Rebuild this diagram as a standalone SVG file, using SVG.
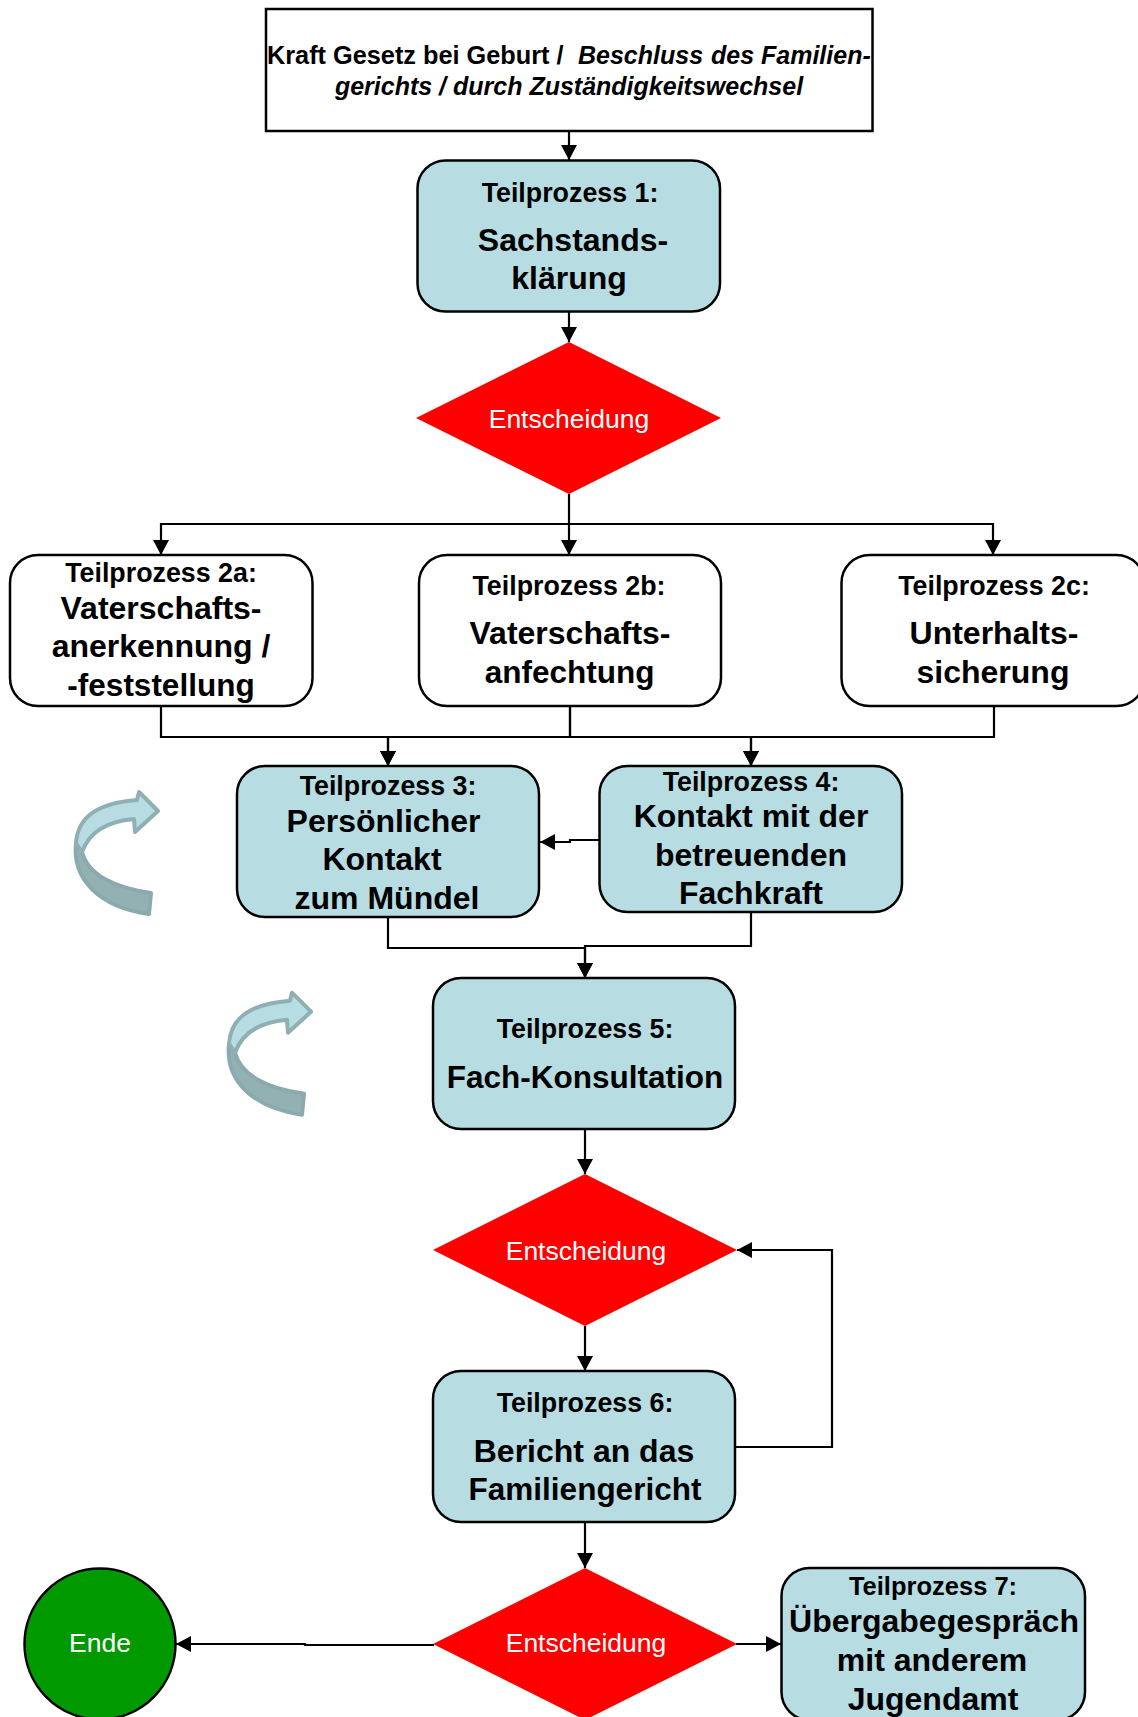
<svg xmlns="http://www.w3.org/2000/svg" width="1138" height="1717" viewBox="0 0 1138 1717">
<style>
text{font-family:"Liberation Sans",Arial,sans-serif;text-anchor:middle;fill:#000}
.h{font-weight:700;font-size:26.800px}
.b{font-weight:700;font-size:32px}
.n{font-weight:700;font-size:31.500px}
.t{font-weight:700;font-size:25px}
.s{text-anchor:start}
.i{font-style:italic}
.w{fill:#fff;font-size:26.500px}
.teal{fill:#b7dde2;stroke:#000;stroke-width:2.5}
.white{fill:#fff;stroke:#000;stroke-width:2.5}
.red{fill:#f00}
.c{fill:none;stroke:#000;stroke-width:2.2}
.up{fill:#b7dde2;stroke:#8fb0b3;stroke-width:4;stroke-linejoin:round}
.lo{fill:#93b1b3;stroke:#8aaaad;stroke-width:4;stroke-linejoin:round}
</style>
<defs>
<marker id="a" markerUnits="userSpaceOnUse" markerWidth="16" markerHeight="16" refX="15" refY="8" orient="auto"><path d="M0 0L15 8L0 16Z" fill="#000"/></marker>
<g id="curve"><path class="lo" d="M76 843C72 880 100 907 149 914L151 893C115 888 88 875 82 852Z"/><path class="up" d="M76 843C78 815 100 803 137 800L139 792L158 811L135 832L134 819C110 821 90 830 82 852Z"/></g>
</defs>
<g id="connectors">
<path class="c" marker-end="url(#a)" d="M569 131V160"/>
<path class="c" marker-end="url(#a)" d="M569 312V342"/>
<path class="c" marker-end="url(#a)" d="M569 494V555"/>
<path class="c" marker-end="url(#a)" d="M569 524H161V555"/>
<path class="c" marker-end="url(#a)" d="M569 524H993V555"/>
<path class="c" marker-end="url(#a)" d="M161 706V737H388V766"/>
<path class="c" marker-end="url(#a)" d="M570 706V737H388V766"/>
<path class="c" marker-end="url(#a)" d="M570 706V737H751V766"/>
<path class="c" marker-end="url(#a)" d="M994 706V737H751V766"/>
<path class="c" marker-end="url(#a)" d="M599 840H570V842H540"/>
<path class="c" marker-end="url(#a)" d="M388 917V948H585V978"/>
<path class="c" marker-end="url(#a)" d="M751 912V946H585V978"/>
<path class="c" marker-end="url(#a)" d="M585 1129V1174"/>
<path class="c" marker-end="url(#a)" d="M585 1326V1371"/>
<path class="c" marker-end="url(#a)" d="M585 1522V1568"/>
<path class="c" marker-end="url(#a)" d="M735 1447H832V1250H737"/>
<path class="c" marker-end="url(#a)" d="M434 1645H305V1644H176"/>
<path class="c" marker-end="url(#a)" d="M736 1644H781"/>
</g>
<g id="start"><rect class="white" x="266" y="9" width="606.500" height="122"/>
<text class="t s" x="267" y="64" style="font-size:25.300px">Kraft Gesetz bei Geburt /</text>
<text class="t s i" x="578" y="64">Beschluss</text>
<text class="t s i" x="711" y="64">des Familien-</text>
<text class="t i" x="569" y="95">gerichts / durch Zuständigkeitswechsel</text></g>
<g id="tp1"><rect class="teal" x="417.500" y="160.500" width="302.500" height="151" rx="28"/><text class="h" x="570" y="201.500">Teilprozess 1:</text><text class="b" x="573" y="251">Sachstands-</text><text class="b" x="569" y="289">klärung</text></g>
<g id="d1"><path class="red" d="M416 418L569 342L721 418L569 494Z"/><text class="w" x="569" y="428">Entscheidung</text></g>
<g id="tp2a"><rect class="white" x="10" y="555" width="302.500" height="151" rx="28"/><text class="h" x="161" y="582">Teilprozess 2a:</text><text class="b" x="161" y="619">Vaterschafts-</text><text class="b" x="161" y="657">anerkennung /</text><text class="n" x="161" y="696">-feststellung</text></g>
<g id="tp2b"><rect class="white" x="419" y="555" width="302" height="151" rx="28"/><text class="h" x="569" y="595">Teilprozess 2b:</text><text class="b" x="570" y="644">Vaterschafts-</text><text class="n" x="569.500" y="683">anfechtung</text></g>
<g id="tp2c"><rect class="white" x="841.500" y="555" width="303" height="151" rx="28"/><text class="h" x="994" y="595">Teilprozess 2c:</text><text class="b" x="994" y="644">Unterhalts-</text><text class="b" x="993" y="683">sicherung</text></g>
<g id="tp3"><rect class="teal" x="237" y="766" width="302" height="151" rx="28"/><text class="h" x="388" y="795">Teilprozess 3:</text><text class="b" x="383.500" y="832">Persönlicher</text><text class="b" x="382" y="870">Kontakt</text><text class="b" x="387" y="909">zum Mündel</text></g>
<g id="tp4"><rect class="teal" x="599.500" y="766" width="302.500" height="146" rx="28"/><text class="h" x="751" y="791">Teilprozess 4:</text><text class="b" x="751" y="827">Kontakt mit der</text><text class="b" x="751" y="866">betreuenden</text><text class="b" x="751" y="904">Fachkraft</text></g>
<g id="loop1"><use href="#curve"/></g>
<g id="loop2"><use href="#curve" transform="translate(153 200.700)"/></g>
<g id="tp5"><rect class="teal" x="433" y="978" width="302" height="151" rx="28"/><text class="h" x="585" y="1038">Teilprozess 5:</text><text class="n" x="585" y="1088">Fach-Konsultation</text></g>
<g id="d2"><path class="red" d="M433 1250L585 1174L737 1250L585 1326Z"/><text class="w" x="586" y="1260">Entscheidung</text></g>
<g id="tp6"><rect class="teal" x="433" y="1371" width="302" height="151" rx="28"/><text class="h" x="585" y="1412">Teilprozess 6:</text><text class="b" x="584" y="1462">Bericht an das</text><text class="n" x="585" y="1500">Familiengericht</text></g>
<g id="d3"><path class="red" d="M433 1644L585 1568L737 1644L585 1720Z"/><text class="w" x="586" y="1652">Entscheidung</text></g>
<g id="tp7"><rect class="teal" x="781.500" y="1568" width="303.500" height="152" rx="28"/><text class="h" x="933" y="1595" style="font-size:25.500px">Teilprozess 7:</text><text class="b" x="934" y="1632">Übergabegespräch</text><text class="b" x="932" y="1671">mit anderem</text><text class="b" x="933" y="1710">Jugendamt</text></g>
<g id="ende"><circle cx="100" cy="1644" r="75.500" fill="#090" stroke="#000" stroke-width="2.500"/><text class="w" x="100" y="1652">Ende</text></g>
</svg>
